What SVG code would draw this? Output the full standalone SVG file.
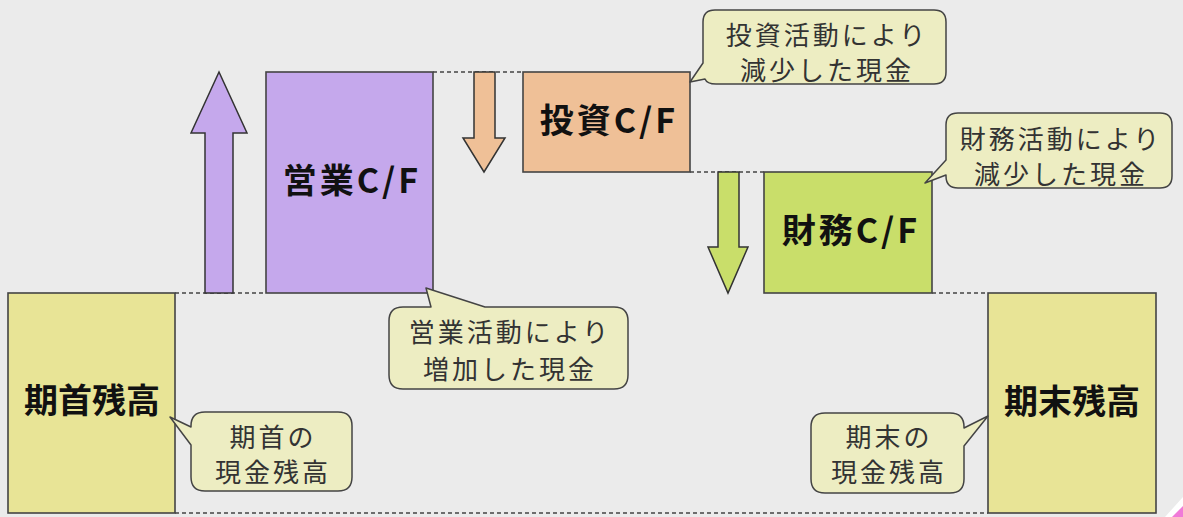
<svg xmlns="http://www.w3.org/2000/svg" width="1183" height="517" viewBox="0 0 1183 517">
<style>
.box{stroke:#444;stroke-width:1.6}
.dash{stroke:#444;stroke-width:1.3;stroke-dasharray:4 3;fill:none}
.arr{stroke:#333;stroke-width:1.5;stroke-linejoin:miter}
.lbl{font-family:"Noto Sans CJK JP","Noto Sans",sans-serif;font-weight:bold;font-size:34px;fill:#111;text-anchor:middle;dominant-baseline:central}
.cf{letter-spacing:3px}
.call{fill:#ededc2;stroke:#444;stroke-width:1.5;stroke-linejoin:round}
.ct{font-family:"Noto Sans CJK JP","Noto Sans",sans-serif;font-size:26px;fill:#333;text-anchor:middle;dominant-baseline:central;letter-spacing:3px}
</style>
<rect width="1183" height="517" fill="#ebebeb"/>
<g id="connectors">
<line class="dash" x1="175" y1="293" x2="266" y2="293"/>
<line class="dash" x1="433" y1="72" x2="523" y2="72"/>
<line class="dash" x1="690" y1="172" x2="764" y2="172"/>
<line class="dash" x1="932" y1="293" x2="988" y2="293"/>
<line class="dash" x1="175" y1="513" x2="988" y2="513"/>
<polygon class="arr" fill="#c5a8ec" points="205,293 233,293 233,133 247,133 219,72 191,133 205,133"/>
<polygon class="arr" fill="#efc097" points="474,72 495,72 495,138 505,138 484,172 463,138 474,138"/>
<polygon class="arr" fill="#c9de6a" points="718,172 739,172 739,247 748,247 728,293 708,247 718,247"/>
</g>
<g id="kishu">
<rect class="box" x="8" y="293" width="167" height="220" fill="#e8e496"/>
<text class="lbl" x="92" y="398">期首残高</text>
</g>
<g id="eigyo">
<rect class="box" x="266" y="72" width="167" height="221" fill="#c5a8ec"/>
<text class="lbl cf" x="352" y="178">営業C/F</text>
</g>
<g id="toshi">
<rect class="box" x="523" y="72" width="167" height="100" fill="#efc097"/>
<text class="lbl cf" x="609" y="118">投資C/F</text>
</g>
<g id="zaimu">
<rect class="box" x="764" y="172" width="168" height="121" fill="#c9de6a"/>
<text class="lbl cf" x="851" y="228">財務C/F</text>
</g>
<g id="kimatsu">
<rect class="box" x="988" y="293" width="168" height="220" fill="#e8e496"/>
<text class="lbl" x="1072" y="399">期末残高</text>
</g>
<g id="callout-toshi">
<path class="call" d="M 715,10 H 934 Q 946,10 946,22 V 72 Q 946,84 934,84 H 716 Q 707,84 705,79 L 690,82 L 703,63 V 22 Q 703,10 715,10 Z"/>
<text class="ct"><tspan x="827" y="33">投資活動により</tspan><tspan x="827" y="68">減少した現金</tspan></text>
</g>
<g id="callout-zaimu">
<path class="call" d="M 958,113 H 1160 Q 1172,113 1172,125 V 176 Q 1172,188 1160,188 H 958 Q 946,188 946,176 V 175 L 925,183 L 946,160 V 125 Q 946,113 958,113 Z"/>
<text class="ct"><tspan x="1061" y="137">財務活動により</tspan><tspan x="1061" y="172">減少した現金</tspan></text>
</g>
<g id="callout-eigyo">
<path class="call" d="M 403,307 H 431 L 426,288 L 485,307 H 614 Q 628,307 628,321 V 375 Q 628,389 614,389 H 403 Q 389,389 389,375 V 321 Q 389,307 403,307 Z"/>
<text class="ct"><tspan x="510" y="330">営業活動により</tspan><tspan x="510" y="367">増加した現金</tspan></text>
</g>
<g id="callout-kishu">
<path class="call" d="M 205,412 H 338 Q 352,412 352,426 V 477 Q 352,491 338,491 H 205 Q 191,491 191,477 V 445 L 170,417 L 191,427 V 426 Q 191,412 205,412 Z"/>
<text class="ct"><tspan x="273" y="435">期首の</tspan><tspan x="273" y="470">現金残高</tspan></text>
</g>
<g id="callout-kimatsu">
<path class="call" d="M 825,413 H 950 Q 964,413 964,427 V 428 L 988,416 L 964,446 V 479 Q 964,493 950,493 H 825 Q 811,493 811,479 V 427 Q 811,413 825,413 Z"/>
<text class="ct"><tspan x="889" y="435">期末の</tspan><tspan x="889" y="470">現金残高</tspan></text>
</g>
<polygon points="1165,517 1183,497 1183,517" fill="#ffffff"/>
<polygon points="1172,517 1183,506 1183,517" fill="#f07ad8"/>
</svg>
